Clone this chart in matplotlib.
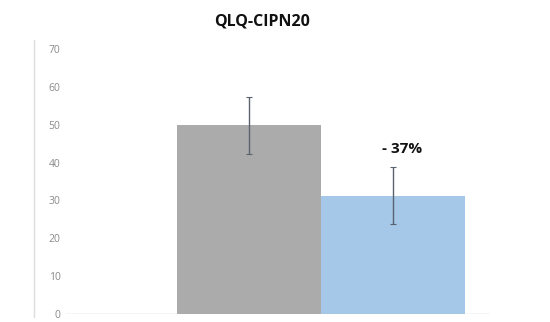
import matplotlib.pyplot as plt
from matplotlib.lines import Line2D

# data
groups = ["Before", "After"]
means = [49.8, 31.3]
errors = [7.6, 7.6]
bar_colors = ["#ababab", "#a5c7e8"]
change_label = "- 37%"
title = "QLQ-CIPN20"
yticks = [0, 10, 20, 30, 40, 50, 60, 70]

plt.rcParams["font.family"] = ["Open Sans", "DejaVu Sans"]

W, H = 550, 322
fig = plt.figure(figsize=(W / 100, H / 100), dpi=100)
# axes placed in pixel terms: left 66, right 490, zero at y=314, 70 at y=49
ax = fig.add_axes([66 / W, (H - 314) / H, (490 - 66) / W, (314 - 49) / H])

x = list(range(len(groups)))
ax.bar(x, means, width=1.0, color=bar_colors, edgecolor="none", zorder=2)
ax.errorbar(x, means, yerr=errors, fmt="none", ecolor="#5a6270",
            elinewidth=1.0, capsize=2, capthick=0.8, zorder=3)

ax.text(x[1] + 0.06, 43.5, change_label, ha="center", va="center",
        fontsize=11, fontweight="bold", color="#111111")

ax.set_xlim(-1.271, 1.674)
ax.set_ylim(0, 70)
ax.set_yticks(yticks)
ax.set_xticks([])
ax.tick_params(axis="y", length=0, pad=4, labelsize=7.5, labelcolor="#8a8a8a")
for s in ax.spines.values():
    s.set_visible(False)
ax.axhline(0, color="#d4d4d4", lw=1.0, zorder=1)

# separate vertical line on the far left
fig.add_artist(Line2D([34 / W, 34 / W], [(H - 317) / H, (H - 40) / H],
                      color="#dcdcdc", lw=1.0, transform=fig.transFigure))

fig.text(262 / W, 1 - 22 / H, title, ha="center", va="center",
         fontsize=11.5, fontweight="bold", color="#111111")

fig.savefig("out.png", dpi=100)
